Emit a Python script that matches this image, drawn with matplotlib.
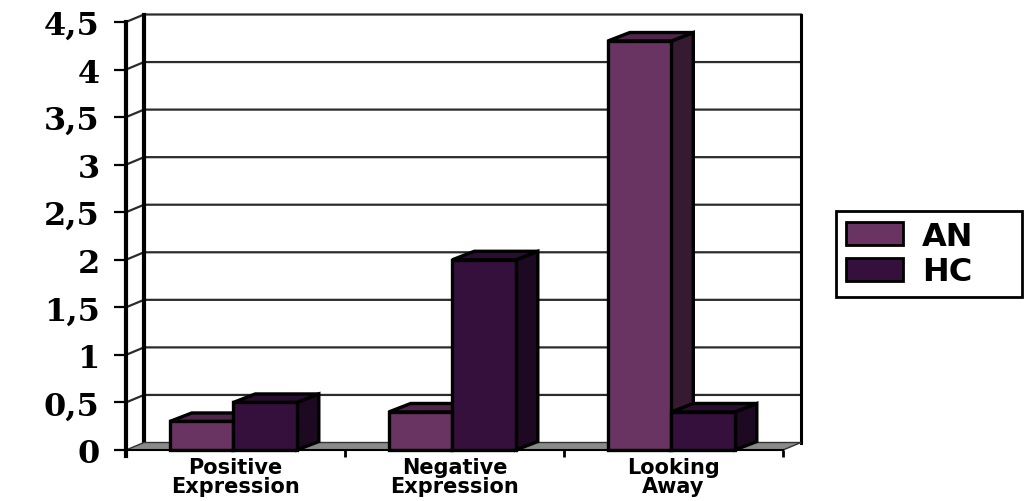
import numpy as np
import matplotlib
matplotlib.use('Agg')
import matplotlib.pyplot as plt
from matplotlib.patches import Rectangle, Polygon, Patch

categories = ['Positive\nExpression', 'Negative\nExpression', 'Looking\nAway']
an_values = [0.3, 0.4, 4.3]
hc_values = [0.5, 2.0, 0.4]
series_names = ['AN', 'HC']
y_ticks = [0, 0.5, 1, 1.5, 2, 2.5, 3, 3.5, 4, 4.5]

# face colours: front, top, side
an_colors = ('#6a3462', '#4f2549', '#351a31')
hc_colors = ('#35103d', '#2a0e31', '#1d0921')

W, H = 1026, 502
fig = plt.figure(figsize=(W / 100, H / 100), dpi=100)
ax_l, ax_b, ax_w, ax_h = 126, 51, 657, 428
ax = fig.add_axes([ax_l / W, ax_b / H, ax_w / W, ax_h / H])
ax.set_xlim(-0.5, 2.5)
ax.set_ylim(0, 4.5)
ax.patch.set_visible(False)

# pixel -> data units
px = 3.0 / ax_w
py = 4.5 / ax_h
wdx, wdy = 18 * px, 7.5 * py     # wall depth
bdx, bdy = 22 * px, 8.5 * py     # bar depth

# back wall gridlines + left wall diagonals
for v in y_ticks[1:]:
    ax.plot([-0.5, -0.5 + wdx, 2.5 + wdx], [v, v + wdy, v + wdy],
            color='#2b2b2b', lw=1.6, clip_on=False, zorder=1)
# back wall edges
ax.plot([-0.5 + wdx, -0.5 + wdx], [wdy, 4.5 + wdy], color='black', lw=3,
        clip_on=False, zorder=2)
ax.plot([2.5 + wdx, 2.5 + wdx], [wdy, 4.5 + wdy], color='black', lw=2.2,
        clip_on=False, zorder=2)

# floor
floor = Polygon([(-0.5, 0), (2.5, 0), (2.5 + wdx, wdy), (-0.5 + wdx, wdy)],
                closed=True, facecolor='#8a8a8a', edgecolor='#333333', lw=1,
                clip_on=False, zorder=2)
ax.add_patch(floor)


def bar3d(x0, width, h, colors, z):
    front, top, side = colors
    kw = dict(edgecolor='black', lw=2.4, clip_on=False, zorder=z, joinstyle='miter')
    ax.add_patch(Polygon([(x0 + width, 0), (x0 + width + bdx, bdy),
                          (x0 + width + bdx, h + bdy), (x0 + width, h)],
                         closed=True, facecolor=side, **kw))
    ax.add_patch(Polygon([(x0, h), (x0 + bdx, h + bdy),
                          (x0 + width + bdx, h + bdy), (x0 + width, h)],
                         closed=True, facecolor=top, **kw))
    ax.add_patch(Rectangle((x0, 0), width, h, facecolor=front, **kw))


bw = 0.29
for i in range(len(categories)):
    bar3d(i - 0.30, bw, an_values[i], an_colors, 3 + i * 2)
    bar3d(i - 0.01, bw, hc_values[i], hc_colors, 4 + i * 2)

# axes styling
for s in ['top', 'right']:
    ax.spines[s].set_visible(False)
ax.spines['left'].set_linewidth(3)
ax.spines['left'].set_bounds(-0.06, 4.5)
ax.spines['bottom'].set_linewidth(1.5)
ax.spines['left'].set_zorder(10)
ax.spines['bottom'].set_zorder(10)

ax.set_yticks(y_ticks)
ax.set_yticklabels([('%g' % v).replace('.', ',') for v in y_ticks],
                   fontfamily='DejaVu Serif', fontweight='bold', fontsize=23)
ax.tick_params(axis='y', length=9, width=1.6, pad=10)

ax.set_xticks([0, 1, 2])
ax.set_xticklabels(categories, fontfamily='DejaVu Sans', fontweight='bold',
                   fontsize=15, linespacing=0.95)
ax.tick_params(axis='x', length=0, pad=5)
ax.set_xticks([-0.5, 0.5, 1.5, 2.5], minor=True)
ax.tick_params(axis='x', which='minor', length=5, width=2)

handles = [Patch(facecolor=an_colors[0], edgecolor='black', lw=2),
           Patch(facecolor=hc_colors[0], edgecolor='black', lw=2)]
leg = fig.legend(handles, series_names, loc='upper left', mode='expand',
                 bbox_to_anchor=(836 / W, 1 - 293 / H, 186 / W, 81 / H),
                 prop=dict(family='DejaVu Sans', weight='bold', size=23),
                 frameon=True, fancybox=False, edgecolor='black', framealpha=1,
                 handlelength=1.8, handleheight=0.75, handletextpad=0.6,
                 labelspacing=0.15, borderpad=0.3, borderaxespad=0)
leg.get_frame().set_linewidth(2)

fig.savefig('out.png', dpi=100)
